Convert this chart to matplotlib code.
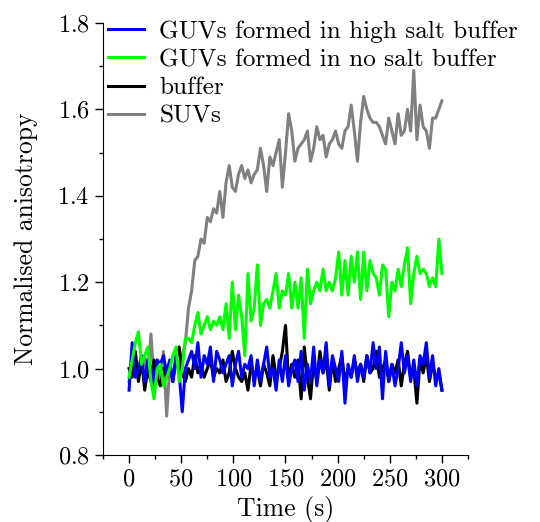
import numpy as np
import matplotlib
matplotlib.use("Agg")
import matplotlib.pyplot as plt
from matplotlib.ticker import MultipleLocator

plt.rcParams['font.family'] = ['cmr10', 'DejaVu Serif']
plt.rcParams['mathtext.fontset'] = 'cm'
plt.rcParams['axes.formatter.use_mathtext'] = True

# time points (s), one reading every 3 s
time_s = np.arange(0, 301, 3)

suvs = [0.97, 1.02, 0.98, 1.00, 0.99, 1.03, 0.98, 1.08, 0.97, 1.00,
        0.98, 1.04, 0.89, 1.00, 0.98, 1.02, 0.99, 1.03, 1.06, 1.14,
        1.18, 1.25, 1.26, 1.30, 1.29, 1.35, 1.34, 1.37, 1.36, 1.41,
        1.35, 1.43, 1.47, 1.42, 1.41, 1.45, 1.47, 1.44, 1.46, 1.43,
        1.45, 1.46, 1.51, 1.47, 1.41, 1.49, 1.47, 1.50, 1.53, 1.42,
        1.50, 1.59, 1.55, 1.48, 1.51, 1.52, 1.53, 1.55, 1.48, 1.51,
        1.56, 1.53, 1.54, 1.49, 1.52, 1.53, 1.55, 1.52, 1.51, 1.55,
        1.56, 1.61, 1.55, 1.48, 1.57, 1.63, 1.60, 1.58, 1.57, 1.57,
        1.56, 1.54, 1.52, 1.58, 1.55, 1.52, 1.59, 1.54, 1.55, 1.60,
        1.55, 1.69, 1.53, 1.61, 1.56, 1.55, 1.51, 1.58, 1.58, 1.60,
        1.62]

no_salt = [0.98, 1.02, 1.06, 1.085, 1.01, 1.03, 1.05, 0.97, 0.93, 1.00,
           1.01, 0.96, 0.98, 1.00, 1.03, 1.05, 0.97, 1.00, 1.07, 1.07,
           1.06, 1.10, 1.13, 1.08, 1.10, 1.12, 1.09, 1.11, 1.10, 1.12,
           1.09, 1.15, 1.07, 1.20, 1.09, 1.17, 1.12, 1.03, 1.22, 1.11,
           1.14, 1.24, 1.10, 1.15, 1.16, 1.14, 1.18, 1.22, 1.14, 1.18,
           1.17, 1.22, 1.14, 1.20, 1.14, 1.21, 1.07, 1.23, 1.15, 1.18,
           1.20, 1.18, 1.23, 1.18, 1.20, 1.18, 1.21, 1.27, 1.17, 1.25,
           1.17, 1.26, 1.20, 1.27, 1.16, 1.27, 1.18, 1.25, 1.22, 1.21,
           1.17, 1.24, 1.23, 1.12, 1.20, 1.18, 1.23, 1.19, 1.24, 1.28,
           1.15, 1.22, 1.26, 1.22, 1.23, 1.22, 1.19, 1.21, 1.19, 1.30,
           1.22]

high_salt = [0.95, 1.06, 0.98, 1.00, 1.03, 0.97, 1.02, 1.00, 0.96, 1.02,
             1.01, 1.03, 0.99, 1.02, 0.97, 1.03, 0.99, 0.90, 1.00, 1.02,
             1.04, 1.00, 1.06, 0.98, 1.03, 1.01, 1.05, 0.97, 1.04, 1.02,
             0.99, 1.01, 1.03, 0.96, 1.01, 1.04, 0.98, 1.01, 1.00, 1.03,
             0.96, 1.02, 0.97, 1.01, 1.05, 0.98, 1.00, 0.95, 1.02, 0.97,
             1.03, 0.96, 1.00, 1.02, 0.97, 1.04, 0.95, 1.01, 0.97, 1.05,
             0.96, 1.02, 0.99, 1.06, 0.96, 1.03, 1.00, 0.97, 1.04, 0.92,
             1.01, 0.98, 1.03, 0.97, 1.01, 0.98, 1.03, 0.99, 1.06, 1.00,
             1.05, 0.93, 1.04, 0.97, 1.01, 0.96, 1.00, 1.06, 0.99, 1.03,
             0.97, 1.02, 0.96, 1.03, 1.01, 1.06, 0.98, 1.03, 0.96, 1.00,
             0.95]

buffer_only = [1.00, 0.98, 1.04, 0.97, 1.02, 0.95, 1.00, 0.97, 1.02, 0.98,
               0.96, 1.00, 0.98, 1.01, 0.97, 1.02, 1.05, 0.99, 0.97, 1.00,
               0.98, 1.03, 0.99, 1.01, 0.98, 1.00, 1.02, 0.98, 1.00, 0.99,
               1.02, 0.97, 0.99, 1.04, 1.00, 0.98, 0.97, 0.99, 0.95, 1.01,
               0.98, 1.00, 0.96, 1.01, 0.99, 0.96, 1.03, 0.98, 1.00, 1.04,
               1.10, 0.97, 1.01, 0.98, 1.02, 0.93, 1.05, 0.98, 0.93, 1.02,
               0.97, 1.04, 0.99, 1.02, 0.95, 1.02, 0.97, 1.00, 1.03, 0.97,
               1.00, 0.98, 1.02, 0.99, 1.01, 0.97, 1.03, 0.99, 1.00, 1.04,
               0.98, 1.00, 1.02, 0.97, 1.01, 0.99, 1.02, 0.96, 1.01, 1.04,
               0.98, 1.00, 0.92, 1.02, 0.99, 1.03, 0.97, 1.01, 0.98, 0.99,
               0.95]

fig = plt.figure(figsize=(5.4, 5.22), dpi=100)
ax = fig.add_axes([0.1907, 0.1284, 0.676, 0.8275])

lw = 2.2
l_gray, = ax.plot(time_s, suvs, color='#808080', lw=lw, label='SUVs')
l_black, = ax.plot(time_s, buffer_only, color='black', lw=lw, label='buffer')
l_blue, = ax.plot(time_s, high_salt, color='#0000ff', lw=lw,
                  label='GUVs formed in high salt buffer')
l_green, = ax.plot(time_s, no_salt, color='#00ff00', lw=lw,
                   label='GUVs formed in no salt buffer')

ax.set_xlim(-25, 325)
ax.set_ylim(0.8, 1.8)
ax.xaxis.set_major_locator(MultipleLocator(50))
ax.xaxis.set_minor_locator(MultipleLocator(25))
ax.yaxis.set_major_locator(MultipleLocator(0.2))
ax.yaxis.set_minor_locator(MultipleLocator(0.1))
ax.set_xticks(range(0, 301, 50))
ax.tick_params(which='major', direction='out', length=6, width=1, labelsize=17.5)
ax.tick_params(which='minor', direction='out', length=3, width=1)
for s in ['top', 'right']:
    ax.spines[s].set_visible(False)

ax.set_xlabel('Time (s)', fontsize=18.5, labelpad=4)
ax.set_ylabel('Normalised anisotropy', fontsize=18.5, labelpad=14)

ax.legend(handles=[l_blue, l_green, l_black, l_gray], loc='upper left',
          bbox_to_anchor=(-0.015, 1.03), frameon=False, fontsize=18.2,
          handlelength=1.45, handletextpad=0.6, labelspacing=0.22,
          borderaxespad=0)

fig.savefig('out.png', dpi=100)
